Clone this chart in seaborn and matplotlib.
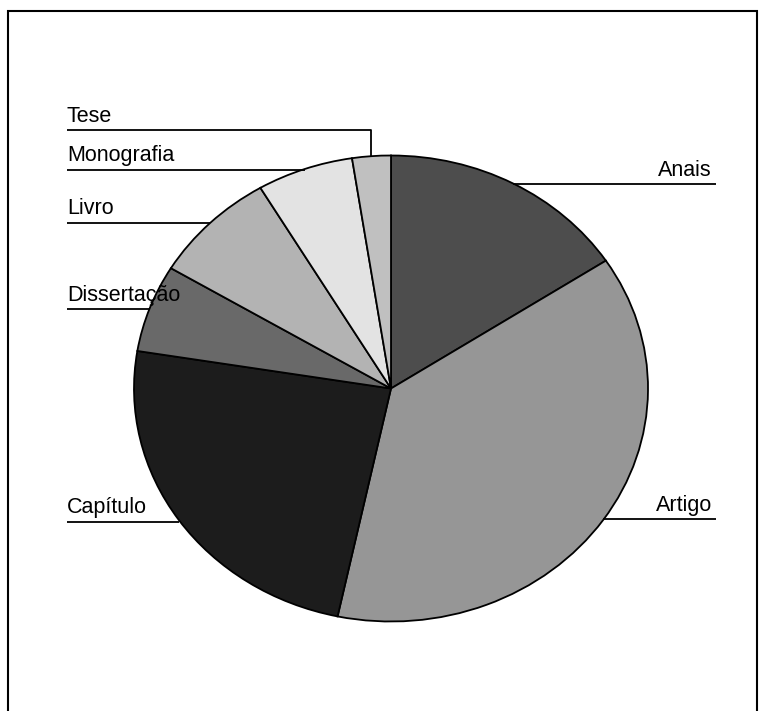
import numpy as np
import seaborn as sns
import matplotlib.pyplot as plt
from matplotlib.patches import Rectangle

sns.set_style("white")
plt.rcParams["font.family"] = ["Liberation Sans", "DejaVu Sans"]
plt.rcParams["text.color"] = "black"

categorias = ["Anais", "Artigo", "Capítulo", "Dissertação", "Livro", "Monografia", "Tese"]
quantidade = [26, 62, 40, 10, 13, 10, 4]
cores = ["#4d4d4d", "#969696", "#1c1c1c", "#696969", "#b3b3b3", "#e3e3e3", "#c0c0c0"]

# label rows in pixels (from top) and side
label_y = {"Anais": 184, "Artigo": 519, "Capítulo": 522, "Dissertação": 309,
           "Livro": 223, "Monografia": 170, "Tese": 130}
label_right = {"Anais", "Artigo"}

W, H = 765, 711
cx, cy, rx, ry = 391, 388.5, 257, 233


def px(x):
    return (x - cx) / rx


def py(y):
    return (cy - y) / ry


fig = plt.figure(figsize=(W / 100, H / 100), dpi=100)
ax = fig.add_axes([0, 0, 1, 1])

wedges, _ = ax.pie(
    quantidade,
    colors=cores,
    startangle=90,
    counterclock=False,
    wedgeprops=dict(edgecolor="black", linewidth=1.3),
)
ax.set_aspect("auto")
ax.set_xlim(px(0), px(W))
ax.set_ylim(py(H), py(0))
ax.axis("off")

for w, nome in zip(wedges, categorias):
    ang = np.deg2rad((w.theta1 + w.theta2) / 2)
    ex, ey = np.cos(ang), np.sin(ang)
    ly = py(label_y[nome])
    ty = py(label_y[nome] - 8.5)
    if nome in label_right:
        lx = px(716)
        ax.plot([ex, lx], [ly, ly], color="black", lw=1.3, solid_capstyle="butt")
        ax.text(px(712), ty, nome, ha="right", va="baseline", fontsize=15.5)
    else:
        lx = px(67)
        if abs(ey - ly) > 0.03:
            ax.plot([lx, ex, ex], [ly, ly, ey], color="black", lw=1.3,
                    solid_capstyle="butt")
        else:
            ax.plot([ex, lx], [ly, ly], color="black", lw=1.3, solid_capstyle="butt")
        ax.text(lx, ty, nome, ha="left", va="baseline", fontsize=15.5)

# outer frame (bottom edge falls outside the image)
fig.patches.append(Rectangle((8 / W, -0.05), (757 - 8) / W, 1.05 - 11 / H,
                             transform=fig.transFigure, fill=False,
                             edgecolor="black", linewidth=1.5))

plt.savefig("out.png", dpi=100)
